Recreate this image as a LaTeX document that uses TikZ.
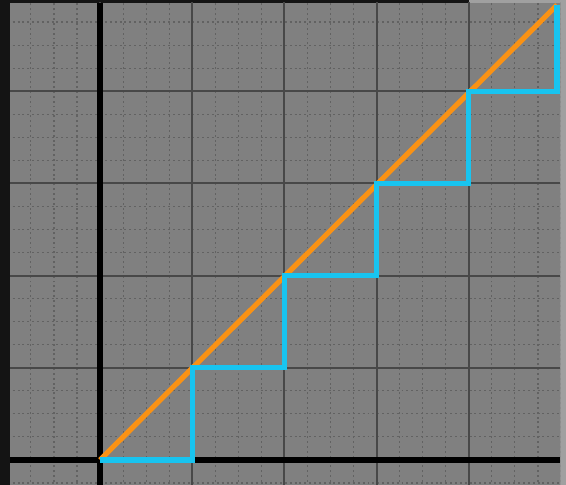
\documentclass[tikz,border=0pt]{standalone}
\usepackage{xcolor}
\usepackage{tikz}
\definecolor{frameblack}{RGB}{20,20,20}
\definecolor{fieldgray}{RGB}{128,128,128}
\definecolor{edgegray}{RGB}{160,160,160}
\definecolor{majorgray}{RGB}{72,72,72}
\definecolor{minorgray}{RGB}{98,98,98}
\definecolor{stairblue}{RGB}{24,196,240}
\definecolor{diagorange}{RGB}{250,146,20}
\tikzset{
    majorline/.style={majorgray, line width=0.6pt},
    minorline/.style={minorgray, line width=0.35pt, dash pattern=on 0.6pt off 0.9pt},
    axisline/.style={black, line width=1.8pt},
    stairline/.style={stairblue, line width=1.6pt},
    diagline/.style={diagorange, line width=1.6pt}
}

\begin{document}
\begin{tikzpicture}[x=1cm, y=1cm]
    \coordinate (O) at (0,0);
    \coordinate (LL) at (-1.085,-0.271);
    \coordinate (UR) at (5.054,4.989);
    \coordinate (FL) at (-0.976,-0.271);
    \coordinate (FR) at (4.99,4.957);
    \useasboundingbox (LL) rectangle (UR);
    \fill[frameblack] (LL) rectangle (UR);
    \fill[edgegray] (4.99,-0.271) rectangle (UR);
    \fill[edgegray] (4.0,4.957) rectangle (4.99,4.989);
    \fill[fieldgray] (FL) rectangle (FR);
    % grid
    \begin{scope}
        \clip (FL) rectangle (FR);
        \draw[minorline, step=0.25] (-1,-0.5) grid (5.1,5.1);
        \draw[majorline, step=1] (-1,-0.5) grid (5.1,5.1);
    \end{scope}
    % axes
    \draw[axisline] (FL |- O) -- (FR |- O);
    \draw[axisline] (O |- FL) -- (O |- FR);
    % diagonal and staircase
    \draw[diagline] (O) -- (4.957,4.935);
    \draw[stairline] (O) -- (1,0) -- (1,1) -- (2,1) -- (2,2) -- (3,2) -- (3,3)
        -- (4,3) -- (4,4) -- (4.957,4) -- (4.957,4.935);
\end{tikzpicture}
\end{document}
